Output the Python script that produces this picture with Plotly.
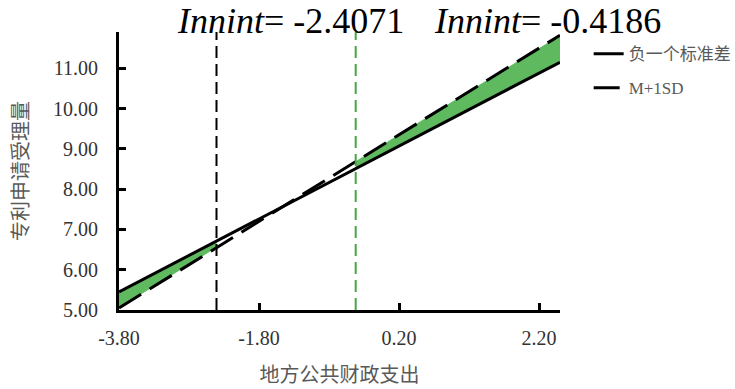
import plotly.graph_objects as go

# Data
x_pts = [-3.8, -2.4071, -0.4186, 2.5]
y_minus_sd = [5.45, 6.71, 8.51, 11.15]   # 负一个标准差 (solid)
y_plus_sd = [5.05, 6.55, 8.69, 11.82]    # M+1SD (dashed)
jn_points = [-2.4071, -0.4186]
jn_labels = ["-2.4071", "-0.4186"]
x_ticks = [-3.8, -1.8, 0.2, 2.2]
x_tick_text = ["-3.80", "-1.80", "0.20", "2.20"]
y_ticks = [5, 6, 7, 8, 9, 10, 11]
y_tick_text = ["5.00", "6.00", "7.00", "8.00", "9.00", "10.00", "11.00"]

GREEN_FILL = "rgb(95,185,95)"
GREEN_LINE = "rgb(70,165,70)"
SERIF = "'Liberation Serif', 'DejaVu Serif', serif"
CJK = "'Liberation Serif', 'Noto Sans CJK SC', serif"

fig = go.Figure()

# significance regions (left: x < first JN point, right: x > second JN point)
left_x = [x_pts[0], x_pts[1], x_pts[1], x_pts[0]]
left_y = [y_minus_sd[0], y_minus_sd[1], y_plus_sd[1], y_plus_sd[0]]
right_x = [x_pts[2], x_pts[3], x_pts[3], x_pts[2]]
right_y = [y_minus_sd[2], y_minus_sd[3], y_plus_sd[3], y_plus_sd[2]]
for fx, fy in [(left_x, left_y), (right_x, right_y)]:
    fig.add_trace(go.Scatter(x=fx, y=fy, fill="toself", fillcolor=GREEN_FILL,
                             line=dict(width=0), mode="lines", showlegend=False,
                             hoverinfo="skip"))

# vertical JN lines
for xv, col in zip(jn_points, ["black", GREEN_LINE]):
    fig.add_shape(type="line", x0=xv, x1=xv, y0=0, y1=1, xref="x", yref="paper",
                  line=dict(color=col, width=2, dash="12px,6px"), layer="above")

fig.add_trace(go.Scatter(x=x_pts, y=y_minus_sd, mode="lines", name="负一个标准差",
                         line=dict(color="black", width=3), legendgroup="a"))
fig.add_trace(go.Scatter(x=x_pts, y=y_plus_sd, mode="lines", name="M+1SD",
                         line=dict(color="black", width=3, dash="26px,10px"),
                         legendgroup="b"))

# titles with JN values
title_pos = [0.388, 0.972]
for xp, lab in zip(title_pos, jn_labels):
    fig.add_annotation(xref="paper", yref="paper", x=xp, y=1.04,
                       text=f"<i>Innint</i>= {lab}", showarrow=False,
                       xanchor="center", yanchor="middle",
                       font=dict(family=SERIF, size=36, color="black"))

fig.update_layout(
    width=735, height=389,
    margin=dict(l=119, r=175, t=32, b=79, autoexpand=False),
    plot_bgcolor="white", paper_bgcolor="white",
    legend=dict(x=1.065, y=0.985, xanchor="left", yanchor="top",
                font=dict(family=CJK, size=17, color="#595959"),
                tracegroupgap=9, bgcolor="rgba(0,0,0,0)"),
    xaxis=dict(range=[-3.8, 2.5], tickvals=x_ticks, ticktext=x_tick_text,
               showgrid=False, zeroline=False, showline=True, linecolor="black",
               linewidth=3, ticks="inside", ticklen=7, tickwidth=3, tickcolor="black",
               ticklabelstandoff=8,
               tickfont=dict(family=SERIF, size=20, color="#333"),
               title=dict(text="地方公共财政支出", standoff=20,
                          font=dict(family=CJK, size=20, color="#595959"))),
    yaxis=dict(range=[5, 11.9], tickvals=y_ticks, ticktext=y_tick_text,
               showgrid=False, zeroline=False, showline=True, linecolor="black",
               linewidth=3, ticks="inside", ticklen=7, tickwidth=3, tickcolor="black",
               ticklabelstandoff=14,
               tickfont=dict(family=SERIF, size=20, color="#333"),
               title=dict(text="专利申请受理量", standoff=20,
                          font=dict(family=CJK, size=20, color="#595959"))),
)

fig.write_html("out.html")
